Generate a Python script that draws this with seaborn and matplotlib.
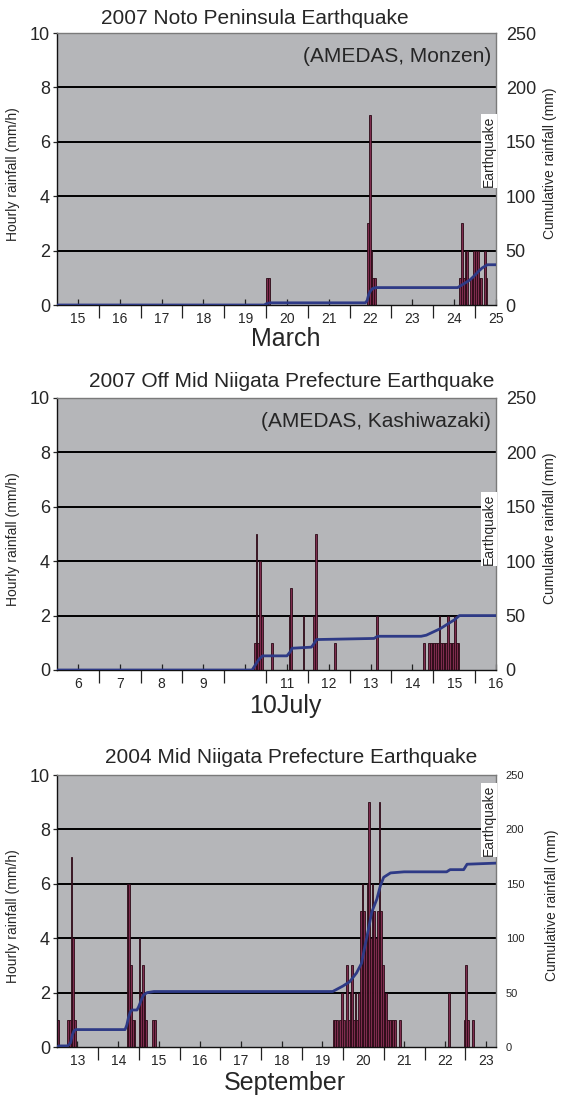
import matplotlib
matplotlib.use("Agg")
import matplotlib.pyplot as plt
import numpy as np
import seaborn as sns

# hours are counted from 00:00 of the first day on each axis

# 2007 Noto Peninsula Earthquake (AMEDAS, Monzen), March 15-25
noto_days = ['15', '16', '17', '18', '19', '20', '21', '22', '23', '24', '25']
noto_rain_h = [120, 121, 178, 179, 180, 181, 182,
               231, 232, 233, 234, 235, 237, 238, 239, 240, 241, 242, 243, 245, 246]
noto_rain = [1, 1, 3, 7, 2, 1, 1,
             1, 3, 1, 2, 2, 1, 1, 2, 2, 2, 1, 1, 2, 1]
noto_cum_h = [0, 119, 120, 122, 177, 178, 179, 180, 181, 183,
              230, 233, 237, 239, 242, 244, 247, 252]
noto_cum = [0, 0, 1, 2, 2, 4, 10, 13, 15, 16,
            16, 19, 23, 26, 31, 34, 37, 37]

# 2007 Off Mid Niigata Prefecture Earthquake (AMEDAS, Kashiwazaki), July 6-16
chuetsu_oki_days = ['6', '7', '8', '9', '', '11', '12', '13', '14', '15', '16']
chuetsu_oki_rain_h = [113, 114, 115, 116, 117, 123, 133, 134, 141, 147, 148, 159, 183,
                      210, 213, 214, 215, 216, 217, 218, 219, 220, 221, 222, 223,
                      224, 225, 226, 227, 228, 229, 230]
chuetsu_oki_rain = [1, 5, 1, 4, 2, 1, 2, 3, 2, 2, 5, 1, 2,
                    1, 1, 1, 1, 1, 1, 1, 2, 1, 1, 1, 1,
                    2, 1, 1, 1, 2, 1, 1]
chuetsu_oki_cum_h = [0, 112, 114, 116, 118, 132, 134, 135, 146, 147, 149, 182, 184,
                     209, 212, 216, 220, 224, 228, 231, 252]
chuetsu_oki_cum = [0, 0, 5, 10, 13, 13, 17, 20, 21, 23, 28, 29, 31,
                   31, 32, 35, 38, 42, 46, 50, 50]

# 2004 Mid Niigata Prefecture Earthquake, September 13-23
chuetsu_days = ['13', '14', '15', '16', '17', '18', '19', '20', '21', '22', '23']
chuetsu_rain_h = [0, 6, 7, 8, 9, 10,
                  41, 42, 43, 44, 45, 48, 49, 50, 51, 52, 56, 57,
                  162, 163, 164, 166, 167, 168, 170, 171, 172, 173, 174, 175, 176, 177,
                  178, 179, 180, 181, 182, 183, 184, 185, 186, 187, 188, 189, 190,
                  191, 192, 193, 194, 195, 196, 197, 198, 201,
                  230, 239, 240, 241, 244]
chuetsu_rain = [1, 1, 1, 7, 4, 1,
                6, 6, 3, 1, 1, 4, 2, 3, 2, 1, 1, 1,
                1, 1, 1, 1, 2, 1, 3, 1, 2, 3, 1, 2, 1, 2,
                5, 6, 5, 4, 6, 9, 4, 6, 5, 4, 5, 9, 5,
                3, 2, 2, 1, 1, 1, 1, 1, 1,
                2, 1, 3, 1, 1]
chuetsu_cum_h = [0, 1, 6, 7, 8, 9, 10, 11, 40, 41, 42, 43, 44, 47, 48, 49, 50, 51, 53, 57,
                 162, 168, 172, 176, 179, 181, 183, 185, 188, 190, 192, 196, 204,
                 229, 231, 239, 241, 258]
chuetsu_cum = [0, 1, 1, 2, 4, 11, 15, 16, 16, 20, 27, 32, 34, 34, 37, 41, 45, 48, 50, 51,
               51, 56, 60, 68, 77, 93, 108, 124, 136, 148, 156, 160, 161,
               161, 163, 163, 168, 169]

panels = [
    dict(title='2007 Noto Peninsula Earthquake', title_x=0.451, title_y=1.055,
         station='(AMEDAS, Monzen)', month='March', month_y=-0.126,
         days=noto_days, rain_h=noto_rain_h, rain=noto_rain,
         cum_h=noto_cum_h, cum=noto_cum, xmax=252, top=33,
         quake_y=0.566, right_fs=13),
    dict(title='2007 Off Mid Niigata Prefecture Earthquake', title_x=0.535, title_y=1.059,
         station='(AMEDAS, Kashiwazaki)', month='10July', month_y=-0.131,
         days=chuetsu_oki_days, rain_h=chuetsu_oki_rain_h, rain=chuetsu_oki_rain,
         cum_h=chuetsu_oki_cum_h, cum=chuetsu_oki_cum, xmax=252, top=398,
         quake_y=0.518, right_fs=13),
    dict(title='2004 Mid Niigata Prefecture Earthquake', title_x=0.533, title_y=1.066,
         station=None, month='September', month_y=-0.134,
         days=chuetsu_days, rain_h=chuetsu_rain_h, rain=chuetsu_rain,
         cum_h=chuetsu_cum_h, cum=chuetsu_cum, xmax=258, top=775,
         quake_y=0.835, right_fs=8),
]

sns.set_style("white")
plt.rcParams['font.family'] = ['Liberation Sans', 'DejaVu Sans']

W, H = 561, 1099
fig = plt.figure(figsize=(W / 100, H / 100), dpi=100)
fig.patch.set_facecolor('white')

bar_face = '#7e2c4e'
bar_edge = '#2a0a16'
line_col = '#2e3a86'

for p in panels:
    ax = fig.add_axes([57 / W, 1 - (p['top'] + 272) / H, 439 / W, 272 / H])
    ax.set_facecolor('#b5b6b9')
    ax.set_axisbelow(True)

    # hourly rainfall bars, one hour wide, starting at the hour
    sns.barplot(x=np.array(p['rain_h']) + 0.5, y=p['rain'], native_scale=True,
                width=1, color=bar_face, saturation=1, edgecolor=bar_edge,
                linewidth=0.6, errorbar=None, ax=ax)

    ax.set_xlim(0, p['xmax'])
    ax.set_ylim(0, 10)
    ax.set_yticks([0, 2, 4, 6, 8, 10])
    for yv in [2, 4, 6, 8]:
        ax.axhline(yv, color='black', lw=1.4, zorder=0.5)

    # long ticks at midnight below the axis, short ticks at noon above it
    n = len(p['days'])
    ax.set_xticks(np.arange(24, 24 * n, 24), labels=[''] * (n - 1))
    ax.set_xticks(np.arange(12, 24 * n, 24), labels=p['days'], minor=True)
    ax.tick_params(axis='x', which='major', direction='out', length=9, width=0.9,
                   color='#222222', bottom=True)
    ax.tick_params(axis='x', which='minor', direction='in', length=4, width=0.9,
                   color='#222222', labelsize=10, pad=5, bottom=True)
    ax.tick_params(axis='y', direction='out', length=3, width=0.9, labelsize=13,
                   pad=2, left=True)
    ax.set_xlabel('')
    ax.set_ylabel('Hourly rainfall (mm/h)', fontsize=10)
    ax.yaxis.set_label_coords(-0.085, 0.48)

    for side in ['left', 'bottom']:
        ax.spines[side].set_color('#111111')
        ax.spines[side].set_linewidth(1.0)
    for side in ['top', 'right']:
        ax.spines[side].set_color('#7a7a7a')
        ax.spines[side].set_linewidth(1.0)

    # cumulative rainfall on the right axis
    ax2 = ax.twinx()
    sns.lineplot(x=p['cum_h'], y=p['cum'], color=line_col, lw=2, ax=ax2)
    ax2.set_ylim(0, 250)
    ax2.set_xlim(0, p['xmax'])
    ax2.set_yticks(range(0, 251, 50))
    ax2.tick_params(axis='y', length=0, labelsize=p['right_fs'], pad=7, right=True)
    ax2.set_ylabel('Cumulative rainfall (mm)', fontsize=10)
    ax2.yaxis.set_label_coords(1.112 if p['right_fs'] < 10 else 1.108, 0.52)
    for side in ax2.spines.values():
        side.set_visible(False)

    ax2.text(1.0, p['quake_y'], 'Earthquake', rotation=90, ha='right', va='center',
             fontsize=10, transform=ax2.transAxes, zorder=10,
             bbox=dict(facecolor='white', edgecolor='none', pad=1))

    ax.text(p['title_x'], p['title_y'], p['title'], transform=ax.transAxes,
            ha='center', va='center', fontsize=15)
    if p['station']:
        ax2.text(0.989, 0.912, p['station'], transform=ax2.transAxes,
                 ha='right', va='center', fontsize=15)
    ax.text(0.52, p['month_y'], p['month'], transform=ax.transAxes,
            ha='center', va='center', fontsize=18)

fig.savefig('out.png', dpi=100)
